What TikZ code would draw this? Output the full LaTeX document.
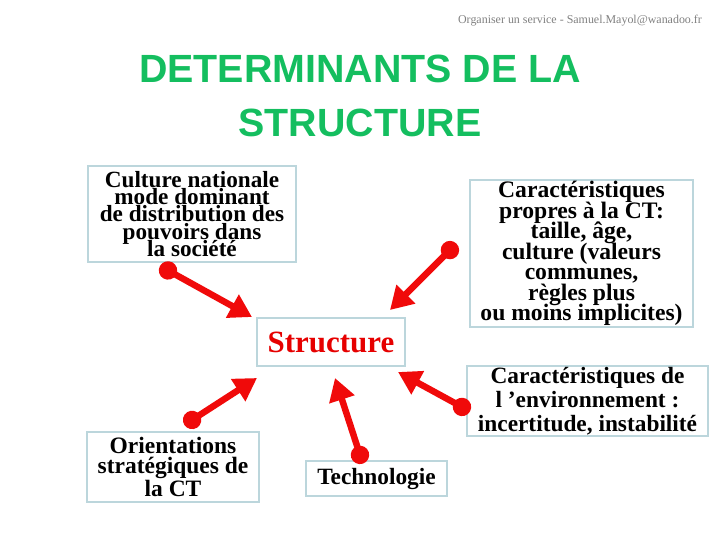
\documentclass[tikz,border=0pt]{standalone}
\usepackage{fontspec}
\setmainfont{Liberation Serif}
\newfontfamily\titlefont{Liberation Sans}
\usetikzlibrary{arrows.meta}
\definecolor{titlegreen}{RGB}{20,190,95}
\definecolor{boxframe}{RGB}{188,214,220}
\definecolor{arrowred}{RGB}{240,10,10}
\newcommand\serre{\lineskiplimit-50pt\relax}

\begin{document}
\begin{tikzpicture}[x=0.025cm,y=-0.025cm,
  cadre/.style={draw=boxframe,line width=1.4pt,align=center,inner sep=0pt},
  fleche/.style={draw=arrowred,line width=4.6pt,{Circle[length=13pt]}-{Triangle[length=16pt,width=18pt]}}]
\useasboundingbox (0,0) rectangle (720,540);
% header and title
\node[anchor=base,text=gray,font=\fontsize{8.5}{10}\selectfont] (entete) at (580,23) {Organiser un service - Samuel.Mayol@wanadoo.fr};
\node[anchor=base,align=center,text=titlegreen,font=\titlefont\bfseries\fontsize{28}{38.3}\selectfont] (titre) at (360,136) {DETERMINANTS DE LA\\STRUCTURE};
% boxes
\node[cadre,minimum width=5.2cm,minimum height=2.4cm,font=\bfseries\fontsize{16.5}{12.2}\selectfont\serre] (culture) at (192,214) {Culture nationale\\mode dominant\\de distribution des\\pouvoirs dans\\la société};
\node[cadre,minimum width=5.575cm,minimum height=3.675cm,font=\bfseries\fontsize{16.8}{14.6}\selectfont\serre] (propres) at (581.5,253.5) {Caractéristiques\\propres à la CT:\\taille, âge,\\culture (valeurs\\communes,\\règles plus\\ou moins implicites)};
\node[cadre,minimum width=6.025cm,minimum height=1.75cm,font=\bfseries\fontsize{16.6}{17}\selectfont] (environ) at (587.5,401) {Caractéristiques de\\l ’environnement :\\incertitude, instabilité};
\node[cadre,minimum width=3.7cm,minimum height=1.2cm,text={rgb,255:red,230;green,0;blue,0},font=\bfseries\fontsize{22}{24}\selectfont] (struct) at (331,342) {Structure};
\node[cadre,minimum width=4.3cm,minimum height=1.75cm,font=\bfseries\fontsize{16.7}{14.5}\selectfont] (orient) at (173,467) {Orientations\\stratégiques de\\la CT};
\node[cadre,minimum width=3.525cm,minimum height=0.875cm,font=\bfseries\fontsize{16.6}{18}\selectfont] (techno) at (376.5,478.5) {Technologie};
% arrow ends
\coordinate (d1) at (160,266); \coordinate (p1) at (252,317);
\coordinate (d2) at (456.4,243.6); \coordinate (p2) at (390,310);
\coordinate (d3) at (470,411.3); \coordinate (p3) at (398,372);
\coordinate (d4) at (184.4,424.9); \coordinate (p4) at (257,378);
\coordinate (d5) at (362.8,463.6); \coordinate (p5) at (335,378);
\draw[fleche] (d1) -- (p1);
\draw[fleche] (d2) -- (p2);
\draw[fleche] (d3) -- (p3);
\draw[fleche] (d4) -- (p4);
\draw[fleche] (d5) -- (p5);
\end{tikzpicture}
\end{document}
